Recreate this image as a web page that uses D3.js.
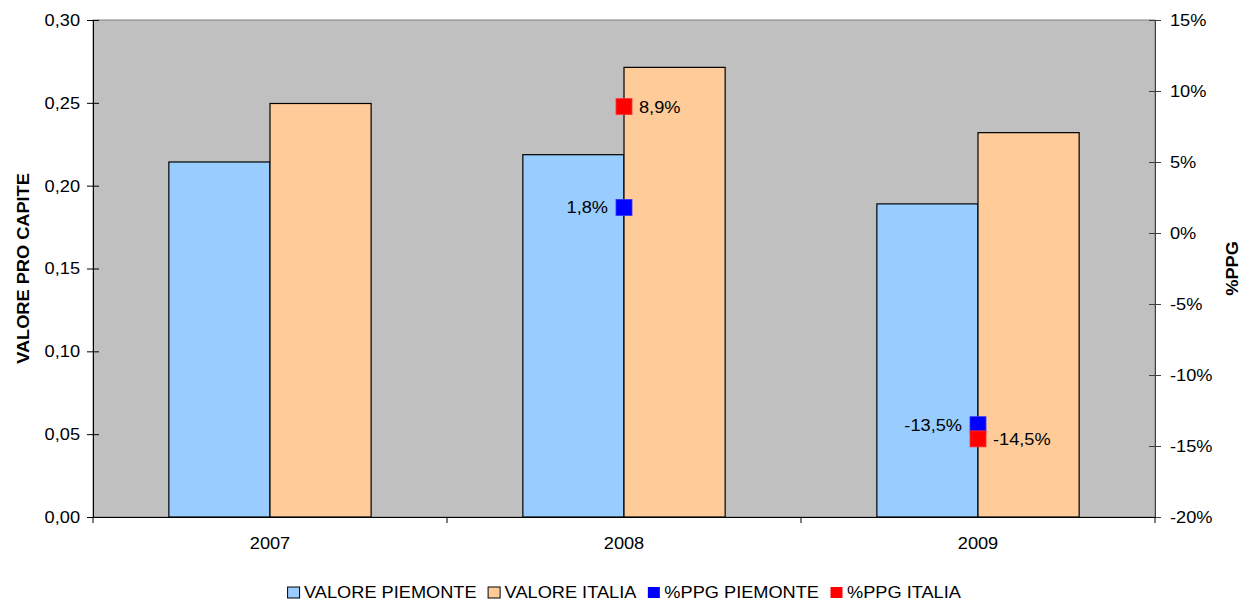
<!DOCTYPE html>
<html>
<head>
<meta charset="utf-8">
<script src="https://cdn.jsdelivr.net/npm/d3@7"></script>
<style>
  html, body { margin: 0; padding: 0; background: #ffffff; }
  svg { display: block; font-family: "Liberation Sans", Arial, sans-serif; }
</style>
</head>
<body>
<svg id="chart" width="1244" height="603"></svg>
<script>
// Per-capita value and year-on-year change, Piemonte vs Italia
const years = ["2007", "2008", "2009"];
const valorePiemonte = [0.2143, 0.2187, 0.1890];
const valoreItalia = [0.2496, 0.2714, 0.2320];
const ppgPiemonte = [null, 1.8, -13.5];
const ppgItalia = [null, 8.9, -14.5];
const leftTicks = [0, 0.05, 0.10, 0.15, 0.20, 0.25, 0.30];
const rightTicks = [-20, -15, -10, -5, 0, 5, 10, 15];
const legendLabels = ["VALORE PIEMONTE", "VALORE ITALIA", "%PPG PIEMONTE", "%PPG ITALIA"];

const colPiemonte = "#99CCFF", colItalia = "#FFCC99";
const colPpgPiemonte = "#0000FF", colPpgItalia = "#FF0000";

const FS = 17;        // base font size
const WIDEN = 1.07;   // horizontal widening of all glyph runs

const svg = d3.select("#chart");
const plot = { left: 93, right: 1155, top: 20, bottom: 517 };

const fmtComma = (v, d) => v.toFixed(d).replace(".", ",");

const x0 = d3.scaleBand().domain(years).range([plot.left, plot.right]).paddingInner(0).paddingOuter(0);
const x1 = d3.scaleBand().domain(["p", "i"]).range([0, x0.bandwidth()]).paddingInner(0).paddingOuter(0.75);
const yL = d3.scaleLinear().domain([0, 0.30]).range([plot.bottom, plot.top]);
const yR = d3.scaleLinear().domain([-20, 15]).range([plot.bottom, plot.top]);

// plot area
svg.append("rect")
  .attr("x", plot.left).attr("y", plot.top)
  .attr("width", plot.right - plot.left).attr("height", plot.bottom - plot.top)
  .attr("fill", "#C0C0C0").attr("stroke", "#808080").attr("stroke-width", 1);

// bars
const g = svg.append("g");
years.forEach((yr, i) => {
  const cx = x0(yr);
  [["p", valorePiemonte[i], colPiemonte], ["i", valoreItalia[i], colItalia]].forEach(([k, v, c]) => {
    g.append("rect")
      .attr("x", cx + x1(k)).attr("y", yL(v))
      .attr("width", x1.bandwidth()).attr("height", yL(0) - yL(v))
      .attr("fill", c).attr("stroke", "#000").attr("stroke-width", 1.2);
  });
});

// left axis
const axL = svg.append("g").attr("transform", `translate(${plot.left},0)`)
  .call(d3.axisLeft(yL).tickValues(leftTicks).tickSize(0).tickFormat(d => fmtComma(d, 2)).tickPadding(13));
axL.select(".domain").attr("stroke", "#000");
axL.selectAll(".tick line").attr("x1", -6).attr("x2", 6).attr("stroke", "#000");
axL.selectAll(".tick text").attr("font-size", FS).attr("fill", "#000").attr("font-family", "Liberation Sans, Arial, sans-serif");

// right axis
const axR = svg.append("g").attr("transform", `translate(${plot.right},0)`)
  .call(d3.axisRight(yR).tickValues(rightTicks).tickSize(0).tickFormat(d => d + "%").tickPadding(15));
axR.select(".domain").attr("stroke", "#404040");
axR.selectAll(".tick line").attr("x1", -6).attr("x2", 6).attr("stroke", "#404040");
axR.selectAll(".tick text").attr("font-size", FS).attr("fill", "#000").attr("font-family", "Liberation Sans, Arial, sans-serif");

// bottom axis
const axB = svg.append("g").attr("transform", `translate(0,${plot.bottom})`)
  .call(d3.axisBottom(x0).tickSize(0).tickPadding(20));
axB.select(".domain").attr("stroke", "#000");
axB.selectAll(".tick text").attr("font-size", FS).attr("fill", "#000").attr("font-family", "Liberation Sans, Arial, sans-serif");
const bounds = years.map(y => x0(y)).concat([x0(years[years.length - 1]) + x0.bandwidth()]);
axB.selectAll(".sep").data(bounds).join("line").attr("class", "sep")
  .attr("x1", d => d).attr("x2", d => d).attr("y1", 0).attr("y2", 6).attr("stroke", "#000");

// axis titles
svg.append("text").attr("transform", `translate(29,${(plot.top + plot.bottom) / 2}) rotate(-90)`)
  .attr("text-anchor", "middle").attr("font-size", FS).attr("font-weight", "bold").text("VALORE PRO CAPITE");
svg.append("text").attr("transform", `translate(1238,${(plot.top + plot.bottom) / 2}) rotate(-90)`)
  .attr("text-anchor", "middle").attr("font-size", FS).attr("font-weight", "bold").text("%PPG");

// %PPG markers with labels
const ms = 16;
years.forEach((yr, i) => {
  const cx = x0(yr) + x0.bandwidth() / 2;
  if (ppgPiemonte[i] !== null) {
    const cy = yR(ppgPiemonte[i]);
    g.append("rect").attr("x", cx - ms / 2).attr("y", cy - ms / 2).attr("width", ms).attr("height", ms)
      .attr("fill", colPpgPiemonte).attr("stroke", "#3333ff").attr("stroke-width", 0.8);
    g.append("text").attr("x", cx - ms / 2 - 8).attr("y", cy).attr("dy", "0.35em")
      .attr("text-anchor", "end").attr("font-size", FS).text(fmtComma(ppgPiemonte[i], 1) + "%");
  }
  if (ppgItalia[i] !== null) {
    const cy = yR(ppgItalia[i]);
    g.append("rect").attr("x", cx - ms / 2).attr("y", cy - ms / 2).attr("width", ms).attr("height", ms)
      .attr("fill", colPpgItalia).attr("stroke", "#ff3333").attr("stroke-width", 0.8);
    g.append("text").attr("x", cx + ms / 2 + 7).attr("y", cy).attr("dy", "0.35em")
      .attr("text-anchor", "start").attr("font-size", FS).text(fmtComma(ppgItalia[i], 1) + "%");
  }
});

// widen every text run slightly
function widen(sel) {
  sel.each(function () {
    const n = this;
    const w = n.getComputedTextLength();
    d3.select(n).attr("textLength", w * WIDEN).attr("lengthAdjust", "spacingAndGlyphs");
  });
}
widen(svg.selectAll("text"));

// legend
const legendColors = [colPiemonte, colItalia, colPpgPiemonte, colPpgItalia];
const legendStroke = ["#000", "#000", "none", "none"];
const leg = svg.append("g");
let lx = 0;
legendLabels.forEach((lab, i) => {
  const it = leg.append("g").attr("transform", `translate(${lx},0)`);
  it.append("rect").attr("x", 0.5).attr("y", -5).attr("width", 12).attr("height", 11)
    .attr("fill", legendColors[i]).attr("stroke", legendStroke[i]).attr("stroke-width", 1);
  const t = it.append("text").attr("x", 17).attr("y", 0).attr("dy", "0.35em")
    .attr("font-size", FS).text(lab);
  const w = t.node().getComputedTextLength() * WIDEN;
  t.attr("textLength", w).attr("lengthAdjust", "spacingAndGlyphs");
  lx += 17 + w + 11;
});
const legW = lx - 11;
leg.attr("transform", `translate(${(plot.left + plot.right) / 2 - legW / 2},592)`);
</script>
</body>
</html>
